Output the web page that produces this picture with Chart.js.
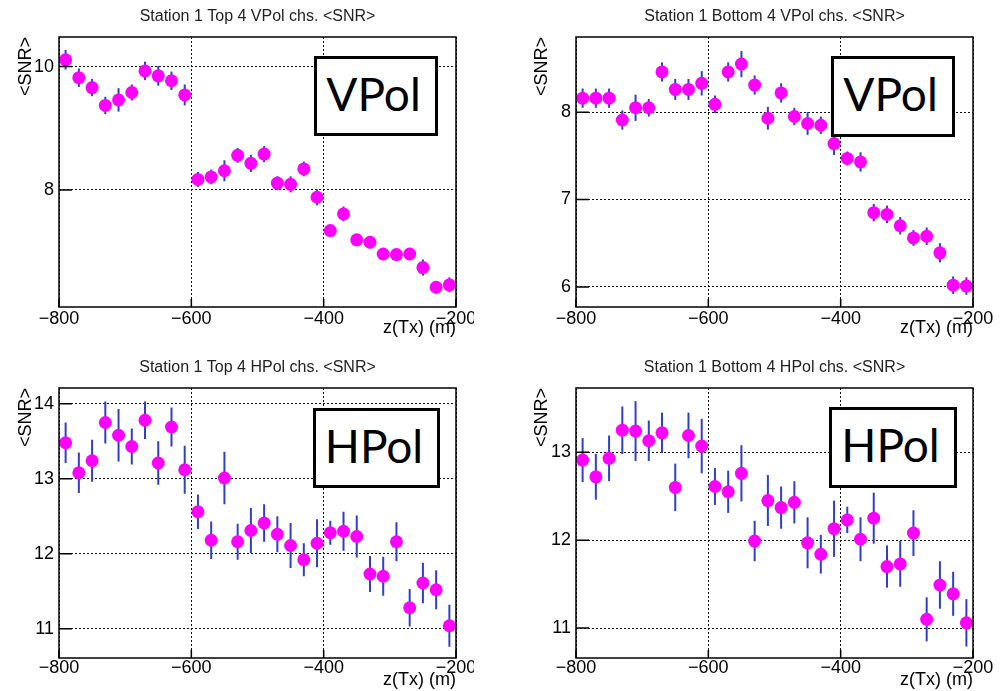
<!DOCTYPE html>
<html lang="en">
<head>
    <meta charset="UTF-8">
    <title>Station 1 SNR vs z(Tx)</title>
    <style>
        body {
            margin: 0;
            width: 1002px;
            height: 691px;
            overflow: hidden;
            position: relative;
            background-color: #fff;
        }
        .panel {
            position: absolute;
            overflow: hidden;
        }
        .panel canvas {
            position: absolute;
            left: 0;
            top: 0;
        }
        .tag {
            position: absolute;
            z-index: 2;
            box-sizing: border-box;
            background-color: #fff;
            border: 3px solid #000;
            font-family: Lato, "Open Sans", sans-serif;
            font-size: 46px;
            color: #000;
            display: flex;
            align-items: center;
            justify-content: center;
            padding: 0 5px 6px 0;
        }
    </style>
</head>
<body>

    <div class="panel" style="left:0; top:0; width:474px; height:345px;"><canvas id="topV" width="490" height="345"></canvas></div>
    <div class="panel" style="left:500px; top:0; width:502px; height:345px;"><canvas id="botV" width="502" height="345"></canvas></div>
    <div class="panel" style="left:0; top:345px; width:474px; height:346px;"><canvas id="topH" width="490" height="346"></canvas></div>
    <div class="panel" style="left:500px; top:345px; width:502px; height:346px;"><canvas id="botH" width="502" height="346"></canvas></div>

    <div class="tag" style="left:314px; top:56px; width:124px; height:80px;">VPol</div>
    <div class="tag" style="left:831px; top:56px; width:124px; height:81px;">VPol</div>
    <div class="tag" style="left:313px; top:408px; width:127px; height:80px;">HPol</div>
    <div class="tag" style="left:829px; top:407px; width:128px; height:81px;">HPol</div>

    <script src="https://cdn.jsdelivr.net/npm/chart.js"></script>
    <script>
        // Transmitter depth of each measurement (m)
        const zTx = [-790, -770, -750, -730, -710, -690, -670, -650, -630, -610,
                     -590, -570, -550, -530, -510, -490, -470, -450, -430, -410,
                     -390, -370, -350, -330, -310, -290, -270, -250, -230, -210];

        // Mean SNR and its error for each channel group
        const topVpolSnr = [10.11, 9.82, 9.66, 9.37, 9.46, 9.58, 9.93, 9.85, 9.77, 9.54,
                            8.17, 8.21, 8.31, 8.56, 8.43, 8.58, 8.11, 8.09, 8.34, 7.88,
                            7.34, 7.61, 7.19, 7.15, 6.96, 6.95, 6.96, 6.74, 6.42, 6.46];
        const topVpolErr = [0.16, 0.15, 0.14, 0.14, 0.19, 0.13, 0.15, 0.16, 0.15, 0.17,
                            0.12, 0.12, 0.17, 0.12, 0.14, 0.13, 0.11, 0.13, 0.12, 0.13,
                            0.08, 0.12, 0.09, 0.10, 0.10, 0.09, 0.10, 0.13, 0.10, 0.12];

        const botVpolSnr = [8.16, 8.16, 8.16, 7.91, 8.05, 8.05, 8.46, 8.26, 8.26, 8.33,
                            8.09, 8.46, 8.55, 8.31, 7.93, 8.22, 7.95, 7.87, 7.85, 7.64,
                            7.47, 7.43, 6.85, 6.83, 6.70, 6.56, 6.58, 6.39, 6.02, 6.01];
        const botVpolErr = [0.11, 0.11, 0.11, 0.11, 0.15, 0.10, 0.11, 0.12, 0.12, 0.14,
                            0.10, 0.11, 0.15, 0.11, 0.13, 0.11, 0.10, 0.13, 0.10, 0.13,
                            0.08, 0.11, 0.10, 0.10, 0.10, 0.09, 0.10, 0.11, 0.10, 0.10];

        const topHpolSnr = [13.48, 13.08, 13.24, 13.75, 13.58, 13.43, 13.78, 13.21, 13.69, 13.12,
                            12.56, 12.18, 13.01, 12.16, 12.31, 12.41, 12.26, 12.11, 11.92, 12.14,
                            12.28, 12.30, 12.23, 11.73, 11.70, 12.16, 11.28, 11.61, 11.52, 11.04];
        const topHpolErr = [0.27, 0.27, 0.28, 0.28, 0.35, 0.24, 0.25, 0.29, 0.26, 0.32,
                            0.23, 0.25, 0.35, 0.24, 0.30, 0.25, 0.24, 0.30, 0.22, 0.32,
                            0.16, 0.26, 0.28, 0.24, 0.26, 0.26, 0.25, 0.27, 0.26, 0.28];

        const botHpolSnr = [12.91, 12.72, 12.93, 13.25, 13.24, 13.13, 13.22, 12.60, 13.19, 13.07,
                            12.61, 12.55, 12.76, 11.99, 12.45, 12.37, 12.43, 11.97, 11.84, 12.13,
                            12.23, 12.01, 12.25, 11.70, 11.73, 12.08, 11.10, 11.49, 11.39, 11.06];
        const botHpolErr = [0.25, 0.26, 0.26, 0.27, 0.34, 0.23, 0.23, 0.27, 0.26, 0.31,
                            0.21, 0.24, 0.32, 0.23, 0.29, 0.24, 0.24, 0.29, 0.22, 0.32,
                            0.15, 0.25, 0.29, 0.24, 0.26, 0.26, 0.25, 0.27, 0.25, 0.27];

        // Axis ranges and tick labels
        const xRange = [-800, -200];
        const xTicks = [-800, -600, -400, -200];
        const topVpolRange = [6.10, 10.48];
        const topVpolTicks = [8, 10];
        const botVpolRange = [5.77, 8.86];
        const botVpolTicks = [6, 7, 8];
        const topHpolRange = [10.61, 14.21];
        const topHpolTicks = [11, 12, 13, 14];
        const botHpolRange = [10.66, 13.73];
        const botHpolTicks = [11, 12, 13];

        const FONT = '"Liberation Sans", Arial, Helvetica, sans-serif';

        // vertical error bars, drawn under the markers
        const errorBars = {
            id: 'errorBars',
            beforeDatasetsDraw(chart) {
                const { ctx, scales: { x, y } } = chart;
                ctx.save();
                ctx.strokeStyle = '#2f3fc6';
                ctx.lineWidth = 2;
                chart.data.datasets.forEach(ds => {
                    ds.data.forEach((p, i) => {
                        const px = x.getPixelForValue(p.x);
                        ctx.beginPath();
                        ctx.moveTo(px, y.getPixelForValue(p.y - ds.errors[i]));
                        ctx.lineTo(px, y.getPixelForValue(p.y + ds.errors[i]));
                        ctx.stroke();
                    });
                });
                ctx.restore();
            }
        };

        // solid frame with tick marks pointing into the plot
        const frame = {
            id: 'frame',
            afterDraw(chart) {
                const { ctx, chartArea: a, scales: { x, y } } = chart;
                ctx.save();
                ctx.strokeStyle = '#000';
                ctx.lineWidth = 1.5;
                ctx.strokeRect(a.left, a.top, a.width, a.height);
                ctx.beginPath();
                y.ticks.forEach(t => {
                    const py = y.getPixelForValue(t.value);
                    ctx.moveTo(a.left, py);
                    ctx.lineTo(a.left + 13, py);
                });
                x.ticks.forEach(t => {
                    const px = x.getPixelForValue(t.value);
                    ctx.moveTo(px, a.bottom);
                    ctx.lineTo(px, a.bottom - 8);
                });
                ctx.stroke();
                ctx.restore();
            }
        };

        const panels = [
            { id: 'topV', title: 'Station 1 Top 4 VPol chs. <SNR>', snr: topVpolSnr, err: topVpolErr,
              range: topVpolRange, yTicks: topVpolTicks,
              left: 59, right: 456, top: 37, bottom: 307, titleMid: 16.5, yTitleMid: 26, xTitleGap: 7.5, tickPad: 3 },
            { id: 'botV', title: 'Station 1 Bottom 4 VPol chs. <SNR>', snr: botVpolSnr, err: botVpolErr,
              range: botVpolRange, yTicks: botVpolTicks,
              left: 76, right: 473, top: 37, bottom: 307, titleMid: 16.5, yTitleMid: 42, xTitleGap: 7.5, tickPad: 3 },
            { id: 'topH', title: 'Station 1 Top 4 HPol chs. <SNR>', snr: topHpolSnr, err: topHpolErr,
              range: topHpolRange, yTicks: topHpolTicks,
              left: 59, right: 456, top: 43, bottom: 313, titleMid: 23, yTitleMid: 26.5, xTitleGap: 2, tickPad: 1 },
            { id: 'botH', title: 'Station 1 Bottom 4 HPol chs. <SNR>', snr: botHpolSnr, err: botHpolErr,
              range: botHpolRange, yTicks: botHpolTicks,
              left: 76, right: 473, top: 43, bottom: 313, titleMid: 23, yTitleMid: 42.5, xTitleGap: 2, tickPad: 1 }
        ];

        const dotted = { display: false, dash: [2, 2] };
        const gridStyle = { color: '#111', lineWidth: 1, drawTicks: false };

        panels.forEach(p => {
            const canvas = document.getElementById(p.id);
            const H = canvas.height;

            new Chart(canvas, {
                type: 'scatter',
                data: {
                    datasets: [{
                        data: zTx.map((z, i) => ({ x: z, y: p.snr[i] })),
                        errors: p.err,
                        backgroundColor: '#ff00ff',
                        borderWidth: 0,
                        pointRadius: 6.5,
                        pointHoverRadius: 6.5
                    }]
                },
                options: {
                    responsive: false,
                    animation: false,
                    events: [],
                    layout: { padding: { left: 0, top: 0, bottom: 0, right: canvas.width - p.right } },
                    plugins: {
                        legend: { display: false },
                        tooltip: { enabled: false },
                        title: {
                            display: true,
                            text: p.title,
                            fullSize: false,
                            color: '#222',
                            font: { family: FONT, size: 16, weight: 'normal', lineHeight: 1 },
                            padding: { top: p.titleMid - 8, bottom: p.top - p.titleMid - 8 }
                        }
                    },
                    scales: {
                        x: {
                            type: 'linear',
                            min: xRange[0],
                            max: xRange[1],
                            afterBuildTicks: s => { s.ticks = xTicks.map(v => ({ value: v })); },
                            afterFit: s => { s.height = H - p.bottom; s.paddingLeft = 0; s.paddingRight = 0; },
                            grid: gridStyle,
                            border: dotted,
                            ticks: {
                                color: '#000',
                                font: { family: FONT, size: 18, lineHeight: 1 },
                                padding: p.tickPad,
                                maxRotation: 0,
                                autoSkip: false,
                                callback: v => v < 0 ? '\u2212' + Math.abs(v) : String(v)
                            },
                            title: {
                                display: true,
                                text: 'z(Tx) (m)',
                                align: 'end',
                                color: '#000',
                                font: { family: FONT, size: 18, lineHeight: 1 },
                                padding: { top: 0, bottom: p.xTitleGap }
                            }
                        },
                        y: {
                            type: 'linear',
                            min: p.range[0],
                            max: p.range[1],
                            afterBuildTicks: s => { s.ticks = p.yTicks.map(v => ({ value: v })); },
                            afterFit: s => { s.width = p.left; s.paddingTop = 0; s.paddingBottom = 0; },
                            grid: gridStyle,
                            border: dotted,
                            ticks: {
                                color: '#000',
                                font: { family: FONT, size: 18 },
                                padding: 5
                            },
                            title: {
                                display: true,
                                text: '<SNR>',
                                align: 'end',
                                color: '#000',
                                font: { family: FONT, size: 18, lineHeight: 1 },
                                padding: { top: p.yTitleMid - 9, bottom: 0 }
                            }
                        }
                    }
                },
                plugins: [errorBars, frame]
            });
        });
    </script>

</body>
</html>
